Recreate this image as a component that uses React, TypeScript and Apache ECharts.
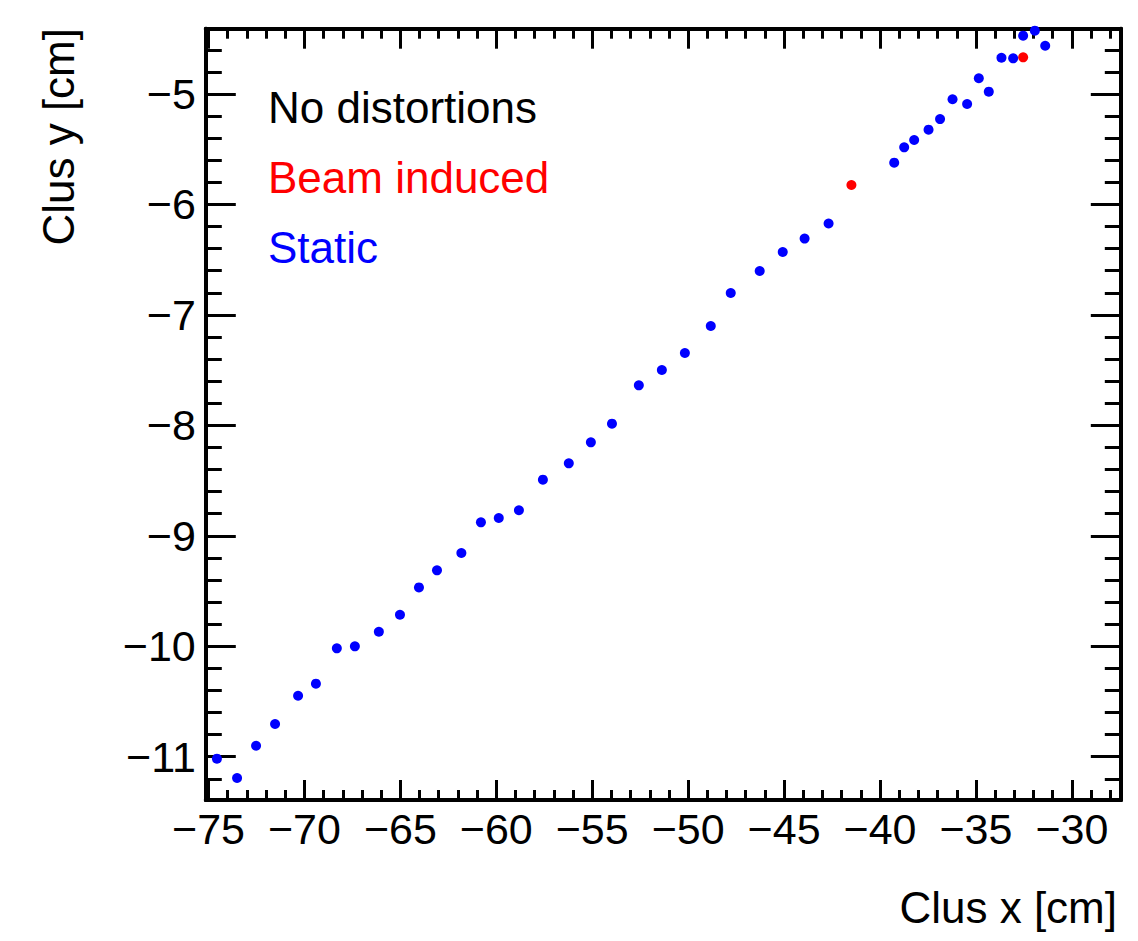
import React, { useEffect, useRef } from "react";
import * as echarts from "echarts";

const staticX = [
  -74.56, -73.51, -72.52, -71.53, -70.33, -69.4, -68.31, -67.37, -66.12, -65.02,
  -64.03, -63.09, -61.82, -60.8, -59.87, -58.82, -57.57, -56.22, -55.07, -53.97,
  -52.57, -51.37, -50.17, -48.82, -47.78, -46.27, -45.07, -43.93, -42.68,
  -39.26, -38.74, -38.22, -37.47, -36.87, -36.22, -35.46, -34.85, -34.33, -33.67,
  -33.06, -32.54, -31.93, -31.39,
];
const staticY = [
  -11.018, -11.193, -10.901, -10.704, -10.448, -10.339, -10.019, -10.001, -9.869, -9.715,
  -9.467, -9.313, -9.156, -8.878, -8.839, -8.769, -8.492, -8.344, -8.154, -7.985,
  -7.638, -7.499, -7.345, -7.101, -6.802, -6.603, -6.431, -6.309, -6.173,
  -5.622, -5.483, -5.417, -5.323, -5.227, -5.048, -5.091, -4.858, -4.979, -4.672,
  -4.677, -4.472, -4.427, -4.563,
];
const beamX = [-41.49, -32.54];
const beamY = [-5.824, -4.668];

const xMajor = [-75, -70, -65, -60, -55, -50, -45, -40, -35, -30];
const yMajor = [-11, -10, -9, -8, -7, -6, -5];
const xRange = [-75.14, -27.45];
const yRange = [-11.392, -4.409];

const legendItems = ["No distortions", "Beam induced", "Static"];
const legendColors = ["#000000", "#ff0000", "#0000ff"];

const FONT = "Liberation Sans, Arial, Helvetica, sans-serif";

function range(a: number, b: number, step: number): number[] {
  const out: number[] = [];
  const n = Math.round((b - a) / step);
  for (let i = 0; i <= n; i++) out.push(Math.round((a + i * step) * 1000) / 1000);
  return out;
}

const xMinor = range(-75, -28, 1);
const yMinor = range(-11.2, -4.6, 0.2);

const fmt = (v: number) => (v < 0 ? "\u2212" + Math.abs(Math.round(v)) : String(Math.round(v)));

export default function App() {
  const ref = useRef<HTMLDivElement>(null);
  useEffect(() => {
    document.body.style.margin = "0";
    if (!ref.current) return;
    const chart = echarts.init(ref.current, null, { renderer: "svg" });
    const lineStyle = { color: "#000", width: 4 };
    const tickStyle = { color: "#000", width: 3 };
    const xAx = (pos: string, values: number[], len: number, labels: boolean) => ({
      type: "value",
      position: pos,
      min: xRange[0],
      max: xRange[1],
      axisLine: { show: true, onZero: false, lineStyle },
      axisTick: { show: true, inside: true, length: len, lineStyle: tickStyle, customValues: values },
      axisLabel: labels
        ? { show: true, customValues: xMajor, formatter: fmt, fontSize: 43, color: "#000", fontFamily: FONT, margin: 7 }
        : { show: false },
      splitLine: { show: false },
    });
    const yAx = (pos: string, values: number[], len: number, labels: boolean) => ({
      type: "value",
      position: pos,
      min: yRange[0],
      max: yRange[1],
      axisLine: { show: true, onZero: false, lineStyle },
      axisTick: { show: true, inside: true, length: len, lineStyle: tickStyle, customValues: values },
      axisLabel: labels
        ? { show: true, customValues: yMajor, formatter: fmt, fontSize: 43, color: "#000", fontFamily: FONT, margin: 10 }
        : { show: false },
      splitLine: { show: false },
    });
    chart.setOption({
      animation: false,
      backgroundColor: "#fff",
      grid: { left: 205.8, top: 28.7, right: 17.2, bottom: 141, containLabel: false },
      xAxis: [
        xAx("bottom", xMajor, 20, true),
        xAx("bottom", xMinor, 10, false),
        xAx("top", xMajor, 20, false),
        xAx("top", xMinor, 10, false),
      ],
      yAxis: [
        yAx("left", yMajor, 30, true),
        yAx("left", yMinor, 16, false),
        yAx("right", yMajor, 30, false),
        yAx("right", yMinor, 16, false),
      ],
      series: [
        {
          name: "Beam induced",
          type: "scatter",
          xAxisIndex: 0,
          yAxisIndex: 0,
          symbolSize: 10,
          itemStyle: { color: "#ff0000", opacity: 1 },
          data: beamX.map((x, i) => [x, beamY[i]]),
        },
        {
          name: "Static",
          type: "scatter",
          xAxisIndex: 0,
          yAxisIndex: 0,
          symbolSize: 10,
          itemStyle: { color: "#0000ff", opacity: 1 },
          data: staticX.map((x, i) => [x, staticY[i]]),
        },
      ],
      graphic: [
        ...legendItems.map((t, i) => ({
          type: "text",
          x: 268,
          y: 107 + i * 70,
          style: { text: t, fill: legendColors[i], font: `44px ${FONT}`, align: "left", verticalAlign: "middle" },
        })),
        {
          type: "text",
          x: 1117,
          y: 907,
          style: { text: "Clus x [cm]", fill: "#000", font: `44px ${FONT}`, align: "right", verticalAlign: "middle" },
        },
        {
          type: "text",
          x: 58,
          y: 28,
          rotation: Math.PI / 2,
          style: { text: "Clus y [cm]", fill: "#000", font: `44px ${FONT}`, align: "right", verticalAlign: "middle" },
        },
      ],
    });
    return () => chart.dispose();
  }, []);
  return <div ref={ref} style={{ width: 1138, height: 941 }} />;
}
